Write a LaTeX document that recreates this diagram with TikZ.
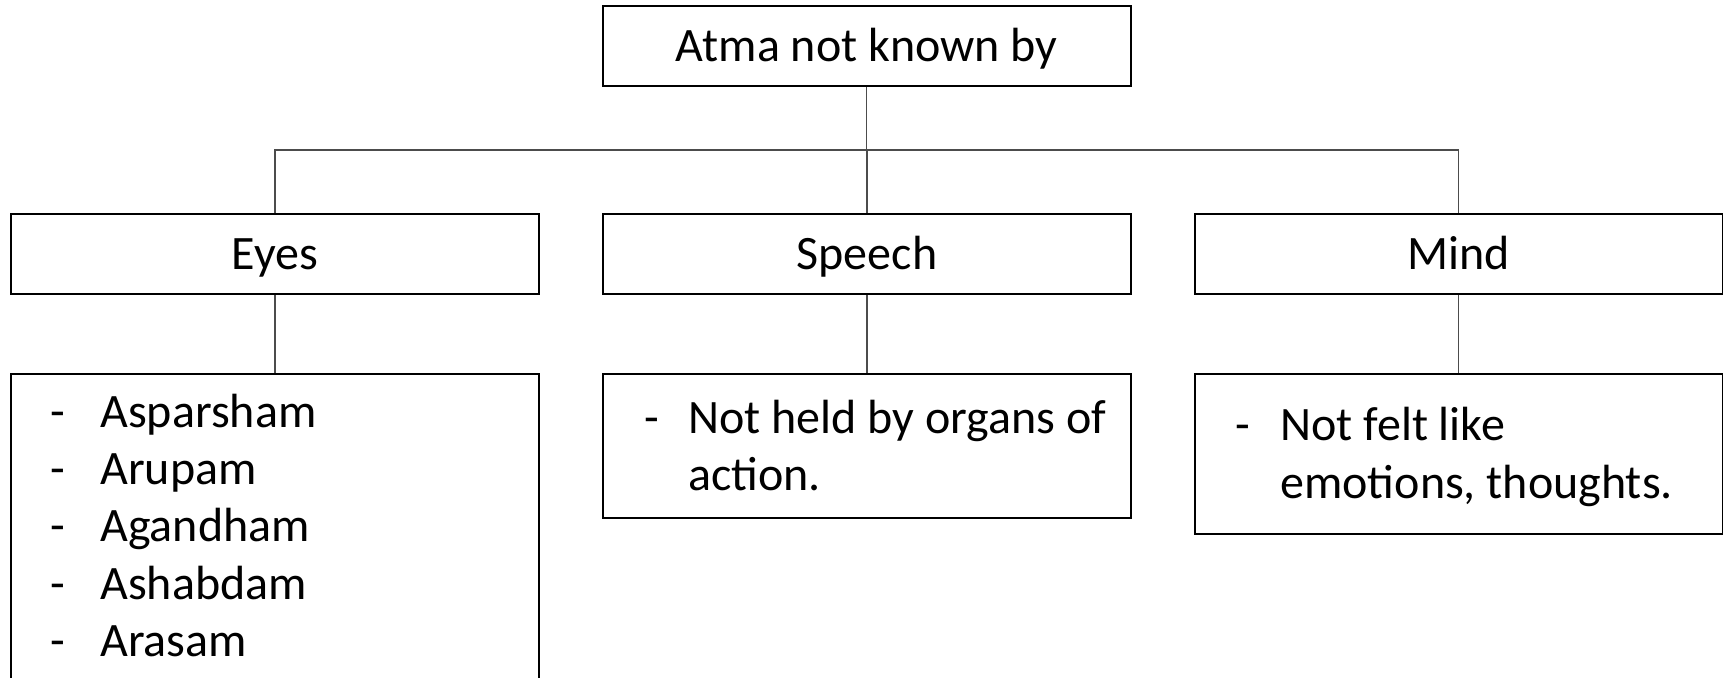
\documentclass[tikz,border=0pt]{standalone}
\usepackage{fontspec}
\setmainfont{Carlito}
\begin{document}
\begin{tikzpicture}[x=0.5pt,y=-0.5pt,
  box/.style={draw=black, line width=1pt, minimum width=264pt, inner sep=0pt},
  link/.style={draw=black!70, line width=0.7pt},
  lbl/.style={font=\fontsize{24}{28.5}\selectfont, inner sep=0pt, anchor=base},
  item/.style={font=\fontsize{24}{28.5}\selectfont, inner sep=0pt, anchor=base west}]
\useasboundingbox (0,0) rectangle (1723,677);
\clip (0,0) rectangle (1723,677);

% boxes
\node[box, minimum height=40pt] (root)   at (866.75,46) {};
\node[box, minimum height=40pt] (eyes)   at (275,254) {};
\node[box, minimum height=40pt] (speech) at (867,254) {};
\node[box, minimum height=40pt] (mind)   at (1458.5,254) {};
\node[box, minimum height=200pt]   (eyeslist)   at (275,574) {};
\node[box, minimum height=71.75pt] (speechlist) at (867,445.75) {};
\node[box, minimum height=79.75pt] (mindlist)   at (1458.5,453.75) {};

% headings
\node[lbl] (rootlbl)   at (866.75,61.7) {Atma not known by};
\node[lbl] (eyeslbl)   at (275,269.3) {Eyes};
\node[lbl] (speechlbl) at (867,269.3) {Speech};
\node[lbl] (mindlbl)   at (1458.5,269.3) {Mind};

% connectors
\coordinate (bar) at (0,150);
\draw[link] (root.south) -- (root.south |- bar);
\draw[link] (eyes.north) |- (mind.north |- bar) -- (mind.north);
\draw[link] (speech.north) -- (speech.north |- bar);
\draw[link] (eyes.south) -- (eyeslist.north);
\draw[link] (speech.south) -- (speechlist.north);
\draw[link] (mind.south) -- (mindlist.north);

% Eyes list
\foreach \y/\w [count=\i] in {427/Asparsham, 484.5/Arupam, 541.5/Agandham, 599/Ashabdam, 656/Arasam} {
  \node[item] (eyesdash\i) at (50,\y) {-};
  \node[item] (eyesitem\i) at (100,\y) {\w};
}

% Speech list
\node[item] (speechdash) at (644,433.3) {-};
\node[item] (speechitema) at (688,433.3) {Not held by organs of};
\node[item] (speechitemb) at (688,490) {action.};

% Mind list
\node[item] (minddash) at (1235,440) {-};
\node[item] (minditema) at (1280,440) {Not felt like};
\node[item] (minditemb) at (1280,498.3) {emotions, thoughts.};
\end{tikzpicture}
\end{document}
